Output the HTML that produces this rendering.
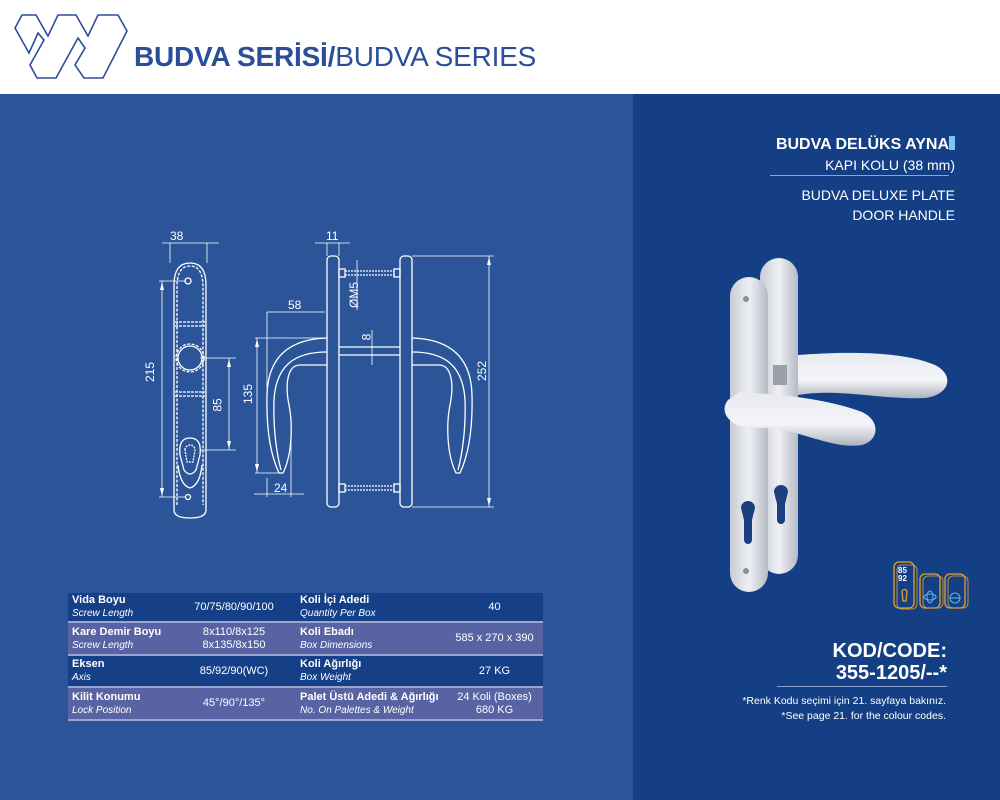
<!DOCTYPE html>
<html><head><meta charset="utf-8"><style>
*{margin:0;padding:0;box-sizing:border-box}
body{width:1000px;height:800px;overflow:hidden;background:#2b5598;font-family:"Liberation Sans","DejaVu Sans",sans-serif;position:relative}
.hdr{position:absolute;left:0;top:0;width:1000px;height:94px;background:#fff}
.title{position:absolute;left:134px;top:41px;font-size:28px;color:#2b4e98;white-space:nowrap;letter-spacing:-0.2px}
.title b{font-weight:bold}
.rp{position:absolute;left:633px;top:94px;width:367px;height:706px;background:#153f85}
.t{position:absolute;color:#fff;white-space:nowrap;text-align:right}
table{position:absolute;left:68px;top:593px;width:475px;border-collapse:collapse;color:#fff;font-size:11px}
td{padding:0 4px;vertical-align:middle;line-height:13px}
tr{border-bottom:2px solid #9aa6d0}
tr.d{background:#153f86}
tr.l{background:#5863a3}
td.c{text-align:center}
i{font-size:10px}
</style></head><body>
<div class="hdr">
<svg width="140" height="94" style="position:absolute;left:0;top:0" fill="none" stroke="#2b4e98" stroke-width="1.6">
<path d="M22,15 L36,15 L48,36 L58,15 L76,15 L88,36 L98,15 L118,15 L127,31 L103,78 L84,78 L75,65 L85,48 L78,38 L56,78 L37,78 L30,65 L44,40 L38,33 L29,53 L15,28 Z"/>
</svg>
<div class="title"><b>BUDVA SERİSİ/</b>BUDVA SERIES</div>
</div>
<div class="rp"></div>

<svg width="1000" height="800" style="position:absolute;left:0;top:0" fill="none" stroke="#fff" stroke-width="1.3">
<path d="M174,510 L174,285 Q174,263 190,263 Q206,263 206,285 L206,510 Q206,518 190,518 Q174,518 174,510 Z"/>
<path d="M177,505 L177,287 Q177,266 190,266 Q203,266 203,287 L203,505" stroke-dasharray="3,1.5"/>
<circle cx="188" cy="281" r="3"/><circle cx="188" cy="497" r="2.5"/>
<circle cx="190" cy="358" r="12"/><circle cx="190" cy="358" r="14" stroke-dasharray="3,1.5"/>
<path d="M175,322 L205,322 M175,326 L205,326 M175,392 L205,392 M175,396 L205,396" stroke-dasharray="3,1"/>
<path d="M180,455 Q178,438 190,438 Q202,438 200,455 L196,470 Q190,478 184,470 Z"/>
<path d="M185,450 a5,5 0 1,1 10,0 L193,462 L187,462 Z" stroke-dasharray="2,1"/>
<path d="M178,465 Q180,485 190,488 Q200,485 202,465" />
<g stroke-width="0.8">
<path d="M170,243 L170,263 M207,243 L207,263 M162,243 L219,243"/>
<path d="M186,281 L159,281 M186,497 L159,497 M162,281 L162,497"/>
<path d="M200,358 L236,358 M200,450 L236,450 M229,358 L229,450"/>
<path d="M327,243 L327,256 M339,243 L339,256 M315,243 L350,243"/>
<path d="M267,388 L267,312 M325,312 L267,312"/>
<path d="M255,338 L325,338 M255,473 L280,473 M257,338 L257,473"/>
<path d="M267,478 L267,497 M291,420 L291,497 M254,494 L304,494"/>
<path d="M412,256 L494,256 M412,507 L494,507 M489,256 L489,507"/>
<path d="M357,260 L357,310 M372,330 L372,365"/>
</g>
<g fill="#fff" stroke="none">
<path d="M162,282 l-2,8 l4,0 z M162,496 l-2,-8 l4,0 z M229,359 l-2,8 l4,0 z M229,449 l-2,-8 l4,0 z M257,339 l-2,8 l4,0 z M257,472 l-2,-8 l4,0 z M489,257 l-2,8 l4,0 z M489,506 l-2,-8 l4,0 z"/>
</g>
<rect x="327" y="256" width="12" height="251" rx="4"/>
<rect x="400" y="256" width="12" height="251" rx="4"/>
<path d="M339,347 L400,347 M339,355 L400,355"/>
<rect x="339" y="269" width="6" height="8"/><rect x="394" y="269" width="6" height="8"/>
<path d="M345,271 L394,271 M345,275 L394,275" stroke-dasharray="2,1"/>
<rect x="339" y="484" width="6" height="8"/><rect x="394" y="484" width="6" height="8"/>
<path d="M345,486 L394,486 M345,490 L394,490" stroke-dasharray="2,1"/>
<g id="h">
<path d="M327,338 C295,339 268,352 267,395 C266,435 272,458 279,473 L283,473 C292,455 293,425 289,405 C285,385 287,365 300,365 L327,365"/>
<path d="M327,352 C295,352 276,365 274,400 C273,430 277,455 281,470"/>
</g>
<use href="#h" transform="translate(739,0) scale(-1,1)"/>
</svg>

<div class="t" style="left:170px;top:229px;font-size:12px">38</div>
<div class="t" style="left:326px;top:229px;font-size:12px">11</div>
<div class="t" style="left:288px;top:298px;font-size:12px">58</div>
<div class="t" style="left:274px;top:481px;font-size:12px">24</div>
<div class="t" style="left:140px;top:365px;font-size:12px;transform:rotate(-90deg)">215</div>
<div class="t" style="left:211px;top:398px;font-size:12px;transform:rotate(-90deg)">85</div>
<div class="t" style="left:238px;top:387px;font-size:12px;transform:rotate(-90deg)">135</div>
<div class="t" style="left:472px;top:364px;font-size:12px;transform:rotate(-90deg)">252</div>
<div class="t" style="left:341px;top:288px;font-size:12px;transform:rotate(-90deg)">ØM5</div>
<div class="t" style="left:363px;top:330px;font-size:12px;transform:rotate(-90deg)">8</div>

<table>
<tr class="d" style="height:29px"><td style="width:104px"><b>Vida Boyu</b><br><i>Screw Length</i></td><td class="c" style="width:124px">70/75/80/90/100</td><td style="width:150px"><b>Koli İçi Adedi</b><br><i>Quantity Per Box</i></td><td class="c">40</td></tr>
<tr class="l" style="height:33px"><td><b>Kare Demir Boyu</b><br><i>Screw Length</i></td><td class="c">8x110/8x125<br>8x135/8x150</td><td><b>Koli Ebadı</b><br><i>Box Dimensions</i></td><td class="c">585 x 270 x 390</td></tr>
<tr class="d" style="height:32px"><td><b>Eksen</b><br><i>Axis</i></td><td class="c">85/92/90(WC)</td><td><b>Koli Ağırlığı</b><br><i>Box Weight</i></td><td class="c">27 KG</td></tr>
<tr class="l" style="height:33px"><td><b>Kilit Konumu</b><br><i>Lock Position</i></td><td class="c">45°/90°/135°</td><td><b>Palet Üstü Adedi &amp; Ağırlığı</b><br><i>No. On Palettes &amp; Weight</i></td><td class="c">24 Koli (Boxes)<br>680 KG</td></tr>
</table>

<div class="t" style="right:45px;top:136px;font-size:16px;font-weight:bold">BUDVA DELÜKS AYNA<span style="display:inline-block;width:6px;height:14px;background:#7cc4f2;vertical-align:-1px"></span></div>
<div class="t" style="right:45px;top:157px;font-size:14px">KAPI KOLU (38 mm)</div>
<div style="position:absolute;left:770px;top:175px;width:179px;height:1px;background:#8ea3cf"></div>
<div class="t" style="right:45px;top:185px;font-size:14px;line-height:20px">BUDVA DELUXE PLATE<br>DOOR HANDLE</div>

<svg width="1000" height="800" style="position:absolute;left:0;top:0">
<defs><linearGradient id="g" x1="0" x2="1"><stop offset="0" stop-color="#c9ccd4"/><stop offset="0.5" stop-color="#eef0f4"/><stop offset="1" stop-color="#b6bac4"/></linearGradient>
<linearGradient id="g2" x1="0" y1="0" x2="0" y2="1"><stop offset="0" stop-color="#e8eaef"/><stop offset="0.6" stop-color="#f4f5f8"/><stop offset="1" stop-color="#aeb2bd"/></linearGradient></defs>
<rect x="760" y="258" width="38" height="316" rx="19" fill="url(#g)"/>
<path d="M798,355 C840,352 900,350 935,365 C955,375 950,395 925,398 C880,400 840,388 798,395 Z" fill="url(#g2)"/>
<rect x="730" y="277" width="38" height="315" rx="19" fill="url(#g)"/>
<rect x="773" y="365" width="14" height="20" fill="#9aa0aa"/>
<path d="M728,400 C718,412 730,430 760,428 C800,428 830,450 862,445 C880,440 880,420 862,412 C830,400 790,395 740,392 Z" fill="url(#g2)"/>
<path d="M741,508 a7,7 0 1,1 14,0 L752,520 L752,540 a4,4 0 0,1 -8,0 L744,520 Z" fill="#1c3f80"/>
<path d="M774,492 a7,7 0 1,1 14,0 L785,504 L785,520 a4,4 0 0,1 -8,0 L777,504 Z" fill="#1c3f80"/>
<circle cx="746" cy="299" r="3" fill="#8a909a"/><circle cx="746" cy="571" r="3" fill="#8a909a"/>
<g fill="none" stroke="#e3a02a" stroke-width="1.3">
<rect x="894" y="562" width="20" height="46" rx="5"/><rect x="897" y="565" width="20" height="44" rx="5" stroke-width="0.8"/>
<rect x="920" y="574" width="20" height="34" rx="5"/><rect x="923" y="576" width="20" height="32" rx="5" stroke-width="0.8"/>
<rect x="945" y="574" width="20" height="34" rx="5"/><rect x="948" y="576" width="20" height="32" rx="5" stroke-width="0.8"/>
<path d="M902,592 a2.5,2.5 0 1,1 5,0 L906,601 L903,601 Z"/>
</g>
<g fill="none" stroke="#5ab0ee" stroke-width="1.1">
<ellipse cx="930" cy="597" rx="3" ry="6"/><ellipse cx="930" cy="597" rx="6" ry="3"/>
<circle cx="955" cy="598" r="5"/><path d="M950,598 L960,598"/>
</g>
<text x="898" y="573" fill="#fff" font-size="8" font-weight="bold" font-family="Liberation Sans">85</text>
<text x="898" y="581" fill="#fff" font-size="8" font-weight="bold" font-family="Liberation Sans">92</text>
</svg>

<div class="t" style="right:53px;top:640px;font-size:20px;font-weight:bold;line-height:22px">KOD/CODE:<br>355-1205/--*</div>
<div style="position:absolute;left:777px;top:686px;width:170px;height:1px;background:#8ea3cf"></div>
<div class="t" style="right:54px;top:694px;font-size:10.5px;line-height:15px">*Renk Kodu seçimi için 21. sayfaya bakınız.<br>*See page 21. for the colour codes.</div>
</body></html>
